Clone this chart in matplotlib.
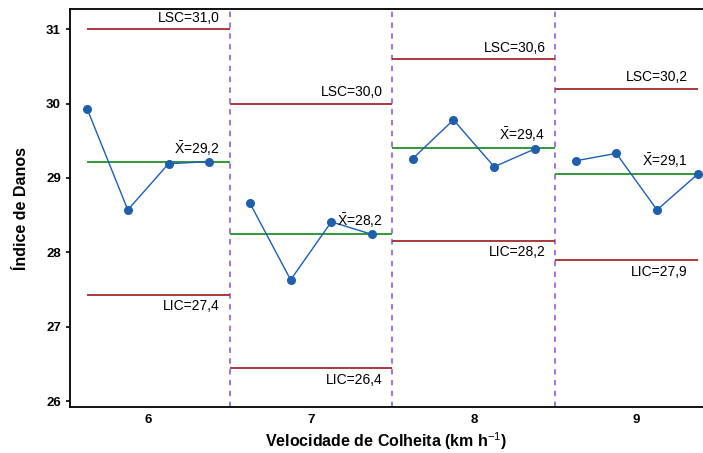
#!/usr/bin/env python3
"""Control chart (X-bar) of damage index by harvest speed."""

import matplotlib
matplotlib.use("Agg")
import matplotlib.pyplot as plt

# data
speeds = ["6", "7", "8", "9"]
g6 = [29.93, 28.57, 29.19, 29.22]
g7 = [28.66, 27.63, 28.41, 28.24]
g8 = [29.26, 29.78, 29.15, 29.39]
g9 = [29.23, 29.33, 28.57, 29.05]
groups = [g6, g7, g8, g9]
lsc = [31.0, 30.0, 30.6, 30.2]
xbar = [29.21, 28.25, 29.40, 29.05]
lic = [27.43, 26.44, 28.15, 27.89]
lsc_txt = ["31,0", "30,0", "30,6", "30,2"]
xbar_txt = ["29,2", "28,2", "29,4", "29,1"]
lic_txt = ["27,4", "26,4", "28,2", "27,9"]

RED = "#a8393b"
GREEN = "#2e9a3a"
BLUE = "#1f5fae"
PURPLE = "#9a6ad8"

plt.rcParams["font.family"] = ["Liberation Sans", "DejaVu Sans"]
plt.rcParams["mathtext.fontset"] = "custom"
plt.rcParams["mathtext.rm"] = "Liberation Sans"

fig = plt.figure(figsize=(7.03, 4.53), dpi=100)
ax = fig.add_axes([0.0996, 0.1015, 0.9004, 0.8785])

n = len(groups[0])
for i, vals in enumerate(groups):
    xs = [i * n + k + 1 for k in range(n)]
    ax.plot(xs, vals, color=BLUE, lw=1.0, marker="o", ms=5.5,
            mfc=BLUE, mec=BLUE, zorder=4)
    x0 = xs[0] if i == 0 else i * n + 0.5
    x1 = xs[-1] if i == len(groups) - 1 else (i + 1) * n + 0.5
    ax.hlines(lsc[i], x0, x1, color=RED, lw=1.4, zorder=2)
    ax.hlines(lic[i], x0, x1, color=RED, lw=1.4, zorder=2)
    ax.hlines(xbar[i], x0, x1, color=GREEN, lw=1.4, zorder=2)
    kw = dict(ha="right", fontsize=10, textcoords="offset points", zorder=5)
    ax.annotate(f"LSC={lsc_txt[i]}", (x1, lsc[i]), xytext=(-7, 3), va="bottom", **kw)
    ax.annotate(f"LIC={lic_txt[i]}", (x1, lic[i]), xytext=(-7, -3), va="top", **kw)
    ax.annotate(r"$\bar{\mathrm{X}}$" + f"={xbar_txt[i]}", (x1, xbar[i]),
                xytext=(-7, 3), va="bottom", **kw)
    if i < len(groups) - 1:
        ax.axvline((i + 1) * n + 0.5, color=PURPLE, lw=1.3, ls=(0, (3, 3)), zorder=1)

ax.set_xlim(0.58, 16.13)
ax.set_ylim(25.92, 31.27)
ax.set_xticks([i * n + (n + 1) / 2 for i in range(len(groups))])
ax.set_xticklabels(speeds, fontweight="bold", fontsize=9.5)
ax.set_yticks([26, 27, 28, 29, 30, 31])
ax.set_yticklabels(["26", "27", "28", "29", "30", "31"], fontweight="bold", fontsize=9.5)
ax.tick_params(axis="x", length=0, pad=5)
ax.tick_params(axis="y", length=3, width=1.2)
for s in ["left", "bottom", "top"]:
    ax.spines[s].set_linewidth(1.3)
ax.spines["right"].set_visible(False)

ax.set_xlabel("Velocidade de Colheita (km h$^{-1}$)", fontweight="bold", fontsize=11.5, labelpad=3)
ax.set_ylabel("Índice de Danos", fontweight="bold", fontsize=11.5, labelpad=12)

fig.savefig("out.png", dpi=100)
